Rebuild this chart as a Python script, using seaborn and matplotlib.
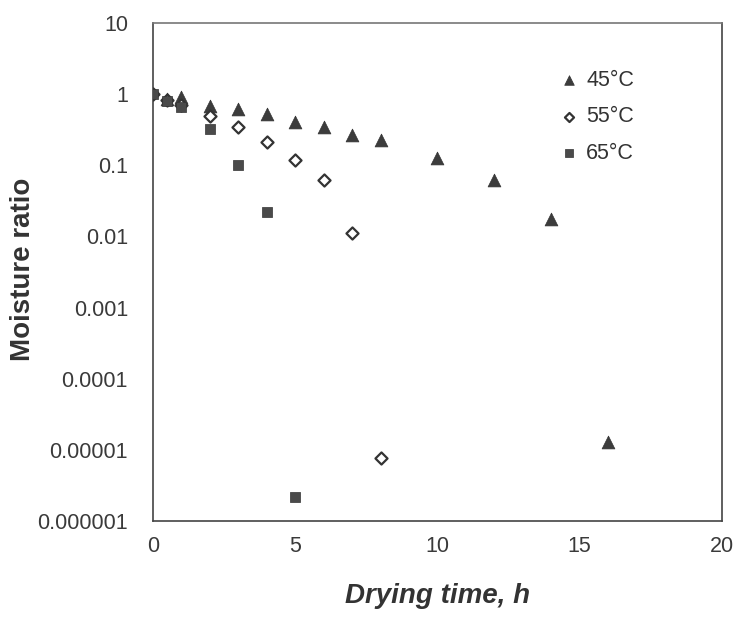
import matplotlib
matplotlib.use("Agg")
import matplotlib.pyplot as plt
import seaborn as sns
import numpy as np
import pandas as pd

# drying data
time_45 = [0.5, 1, 2, 3, 4, 5, 6, 7, 8, 10, 12, 14, 16]
mr_45 = [0.85, 0.9, 0.69, 0.62, 0.53, 0.41, 0.35, 0.27, 0.23, 0.126, 0.062, 0.0175, 0.000013]

time_55 = [0, 0.5, 1, 2, 3, 4, 5, 6, 7, 8]
mr_55 = [1.0, 0.82, 0.7, 0.5, 0.35, 0.21, 0.12, 0.062, 0.011, 0.0000077]

time_65 = [0, 0.5, 1, 2, 3, 4, 5]
mr_65 = [1.0, 0.8, 0.66, 0.32, 0.1, 0.022, 0.0000022]

temps = ["45°C", "55°C", "65°C"]
y_ticks = [1e-6, 1e-5, 1e-4, 1e-3, 1e-2, 1e-1, 1, 10]
y_ticklabels = ["0.000001", "0.00001", "0.0001", "0.001", "0.01", "0.1", "1", "10"]
x_ticks = [0, 5, 10, 15, 20]

df = pd.concat([
    pd.DataFrame({"time": time_45, "mr": mr_45, "temp": temps[0]}),
    pd.DataFrame({"time": time_55, "mr": mr_55, "temp": temps[1]}),
    pd.DataFrame({"time": time_65, "mr": mr_65, "temp": temps[2]}),
])

sns.set_style("white")
plt.rcParams['font.family'] = ['Liberation Sans', 'DejaVu Sans']

fig = plt.figure(figsize=(7.44, 6.23), dpi=100)
ax = fig.add_axes([0.2056, 0.1637, 0.7648, 0.7994])

markers = {"45°C": "^", "55°C": "D", "65°C": "s"}
faces = {"45°C": "#3c3c3c", "55°C": "white", "65°C": "#4a4a4a"}
sizes = {"45°C": 85, "55°C": 38, "65°C": 60}

for t in temps:
    sub = df[df["temp"] == t]
    sns.scatterplot(data=sub, x="time", y="mr", marker=markers[t], s=sizes[t],
                    color=faces[t], edgecolor="#333333", linewidth=1.6 if t == "55°C" else 0.5,
                    label=t, ax=ax, zorder=3)

ax.set_yscale("log")
ax.set_ylim(1e-6, 10)
ax.set_xlim(0, 20)
ax.set_yticks(y_ticks)
ax.set_yticklabels(y_ticklabels)
ax.minorticks_off()
ax.set_xticks(x_ticks)
ax.tick_params(axis="both", labelsize=15.5, labelcolor="#3a3a3a", color="#555555",
               direction="out", length=3, width=0.8)
ax.tick_params(axis="y", pad=15)
ax.tick_params(axis="x", pad=8)

for side in ["left", "bottom", "right", "top"]:
    ax.spines[side].set_color("#444444")
    ax.spines[side].set_linewidth(1.2)
ax.spines["top"].set_color("#777777")

ax.set_xlabel("Drying time, h", fontsize=20, fontweight="bold", fontstyle="italic",
              color="#333333")
ax.set_ylabel("Moisture ratio", fontsize=20, fontweight="bold", color="#333333")
ax.xaxis.set_label_coords(0.5, -0.125)
ax.yaxis.set_label_coords(-0.205, 0.505)

ax.legend(loc="upper left", bbox_to_anchor=(0.678, 0.945), frameon=False, fontsize=15.5,
          labelspacing=0.72, handlelength=1.0, handletextpad=0.3, markerscale=0.75,
          labelcolor="#333333")

fig.savefig("out.png", dpi=100)
